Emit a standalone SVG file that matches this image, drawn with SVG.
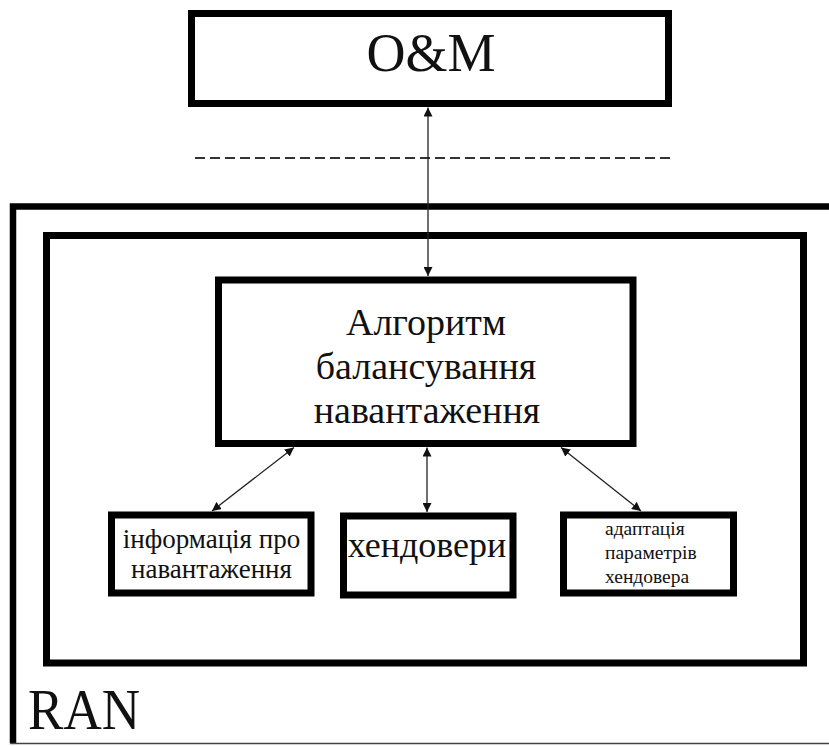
<svg xmlns="http://www.w3.org/2000/svg" width="829" height="746" viewBox="0 0 829 746">
  <style>
    .box { fill: none; stroke: #000; stroke-width: 7; }
    .t { font-family: "Liberation Serif", serif; fill: #111; }
    .c { text-anchor: middle; }
    .conn { stroke: #222; stroke-width: 1.3; fill: none; }
  </style>
  <defs>
    <marker id="ah" viewBox="0 0 10 10" refX="10" refY="5" markerWidth="9" markerHeight="9" markerUnits="userSpaceOnUse" orient="auto-start-reverse">
      <path d="M0,0 L10,5 L0,10 z" fill="#111" stroke="none"/>
    </marker>
  </defs>
  <rect x="0" y="0" width="829" height="746" fill="#fff"/>

  <g id="om">
    <rect class="box" x="191.5" y="13.5" width="477" height="90"/>
    <text class="t c" x="431" y="71" font-size="54">O&amp;M</text>
  </g>

  <line x1="195" y1="158" x2="670" y2="158" stroke="#333" stroke-width="2" stroke-dasharray="10 5"/>

  <g id="ran">
    <path d="M829 206.5 H13 V743" fill="none" stroke="#000" stroke-width="6.5"/>
    <line x1="10" y1="743.5" x2="829" y2="743.5" stroke="#444" stroke-width="1.5"/>
    <text class="t" x="28" y="729" font-size="56" textLength="112" lengthAdjust="spacingAndGlyphs">RAN</text>
  </g>

  <g id="inner">
    <rect class="box" x="46.5" y="235.5" width="757" height="427.5"/>
  </g>

  <g id="algo">
    <rect class="box" x="218.5" y="280" width="414.5" height="163.5"/>
    <text class="t c" x="426" y="335" font-size="38">Алгоритм</text>
    <text class="t c" x="426" y="379" font-size="38">балансування</text>
    <text class="t c" x="427" y="423" font-size="38">навантаження</text>
  </g>

  <g id="info">
    <rect class="box" x="111.5" y="515" width="199.5" height="78"/>
    <text class="t c" x="211.5" y="548" font-size="27">інформація про</text>
    <text class="t c" x="211.5" y="578" font-size="27">навантаження</text>
  </g>

  <g id="handover">
    <rect class="box" x="343.5" y="516" width="169.5" height="79"/>
    <text class="t c" x="427" y="557" font-size="36">хендовери</text>
  </g>

  <g id="adapt">
    <rect class="box" x="563.5" y="515" width="170" height="78"/>
    <text class="t" x="605" y="535" font-size="19.5">адаптація</text>
    <text class="t" x="605" y="559" font-size="19.5">параметрів</text>
    <text class="t" x="605" y="583" font-size="19.5">хендовера</text>
  </g>

  <g id="connectors">
    <line class="conn" x1="428" y1="107.5" x2="428" y2="276" marker-start="url(#ah)" marker-end="url(#ah)"/>
    <line class="conn" x1="294" y1="447.5" x2="212" y2="511" marker-start="url(#ah)" marker-end="url(#ah)"/>
    <line class="conn" x1="427" y1="447.5" x2="427" y2="512" marker-start="url(#ah)" marker-end="url(#ah)"/>
    <line class="conn" x1="561" y1="447.5" x2="641" y2="511" marker-start="url(#ah)" marker-end="url(#ah)"/>
  </g>
</svg>
